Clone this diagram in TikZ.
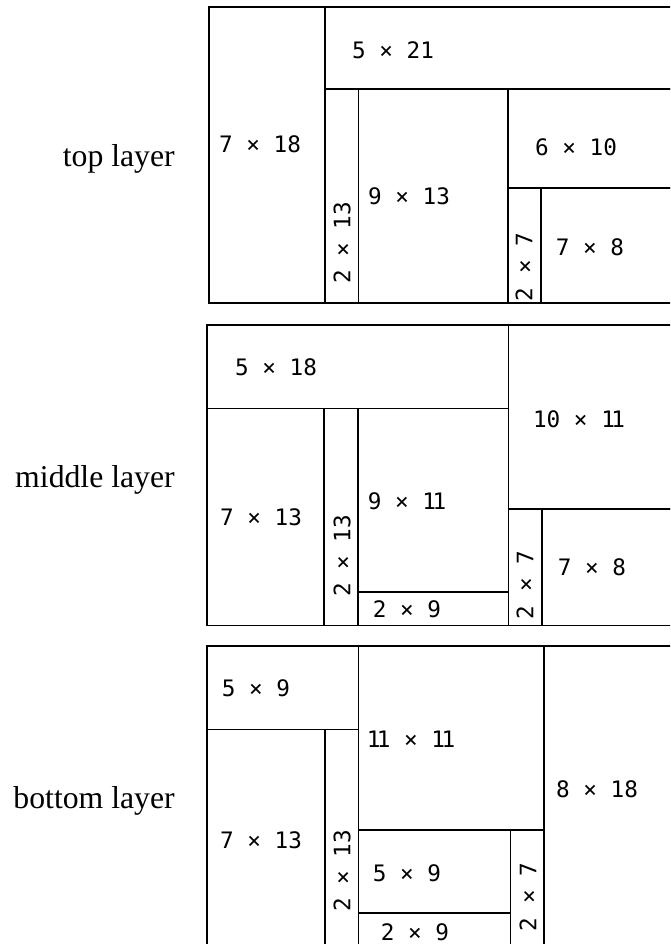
\documentclass[tikz,border=0pt]{standalone}
\usepackage{fontspec}
\setmainfont{Liberation Serif}
\newfontfamily\plotfont{DejaVu Sans Mono}
\newcommand{\oneone}{1\kern-0.16em 1}
\begin{document}
\begin{tikzpicture}[x=0.75pt,y=-0.75pt,
  piece/.style={draw=black,line width=1.2pt},
  dim/.style={font=\plotfont\fontsize{17}{19}\selectfont,inner sep=0pt,anchor=center},
  dimv/.style={dim,rotate=90},
  layername/.style={font=\fontsize{23.8}{26}\selectfont,inner sep=0pt,anchor=base east}]
\clip (0,0) rectangle (670,944);
\fill[white] (0,0) rectangle (670,944);
% top layer
\begin{scope}[shift={(209,7)},xscale=16.6,yscale=16.45]
  \draw[piece] (0,0) rectangle (7,18);
  \draw[piece] (7,0) rectangle (28,5);
  \draw[piece] (7,5) rectangle (9,18);
  \draw[piece] (9,5) rectangle (18,18);
  \draw[piece] (18,5) rectangle (28,11);
  \draw[piece] (18,11) rectangle (20,18);
  \draw[piece] (20,11) rectangle (28,18);
\end{scope}
% middle layer
\begin{scope}[shift={(207,325)},xscale=16.75,yscale=16.7]
  \draw[piece] (0,0) rectangle (18,5);
  \draw[piece] (18,0) rectangle (28,11);
  \draw[piece] (0,5) rectangle (7,18);
  \draw[piece] (7,5) rectangle (9,18);
  \draw[piece] (9,5) rectangle (18,16);
  \draw[piece] (9,16) rectangle (18,18);
  \draw[piece] (18,11) rectangle (20,18);
  \draw[piece] (20,11) rectangle (28,18);
\end{scope}
% bottom layer
\begin{scope}[shift={(207,646)},xscale=16.85,yscale=16.7]
  \draw[piece] (0,0) rectangle (9,5);
  \draw[piece] (9,0) rectangle (20,11);
  \draw[piece] (20,0) rectangle (28,18);
  \draw[piece] (0,5) rectangle (7,18);
  \draw[piece] (7,5) rectangle (9,18);
  \draw[piece] (9,11) rectangle (18,16);
  \draw[piece] (9,16) rectangle (18,18);
  \draw[piece] (18,11) rectangle (20,18);
\end{scope}
% layer names
\node[layername] (ltop) at (175,167) {top layer};
\node[layername] (lmid) at (175,487) {middle layer};
\node[layername] (lbot) at (175,808) {bottom layer};
% top labels
\node[dim] (ta) at (260,144) {7 × 18};
\node[dim] (tb) at (393,50) {5 × 21};
\node[dim] (tc) at (576,147) {6 × 10};
\node[dim] (td) at (409,196) {9 × 13};
\node[dimv] (te) at (342,243) {2 × 13};
\node[dimv] (tf) at (524,267) {2 × 7};
\node[dim] (tg) at (590,247) {7 × 8};
% middle labels
\node[dim] (ma) at (276,367) {5 × 18};
\node[dim] (mb) at (579,419) {10 × \oneone};
\node[dim] (mc) at (261,517) {7 × 13};
\node[dim] (md) at (407,501) {9 × \oneone};
\node[dimv] (me) at (342,556) {2 × 13};
\node[dim] (mf) at (407,609) {2 × 9};
\node[dimv] (mg) at (525,585) {2 × 7};
\node[dim] (mh) at (592,567) {7 × 8};
% bottom labels
\node[dim] (ba) at (256,688) {5 × 9};
\node[dim] (bb) at (411,739) {\oneone{} × \oneone};
\node[dim] (bc) at (597,789) {8 × 18};
\node[dim] (bd) at (261,840) {7 × 13};
\node[dimv] (be) at (342,871) {2 × 13};
\node[dim] (bf) at (407,873) {5 × 9};
\node[dim] (bg) at (415,932) {2 × 9};
\node[dimv] (bh) at (528,897) {2 × 7};
\end{tikzpicture}
\end{document}
